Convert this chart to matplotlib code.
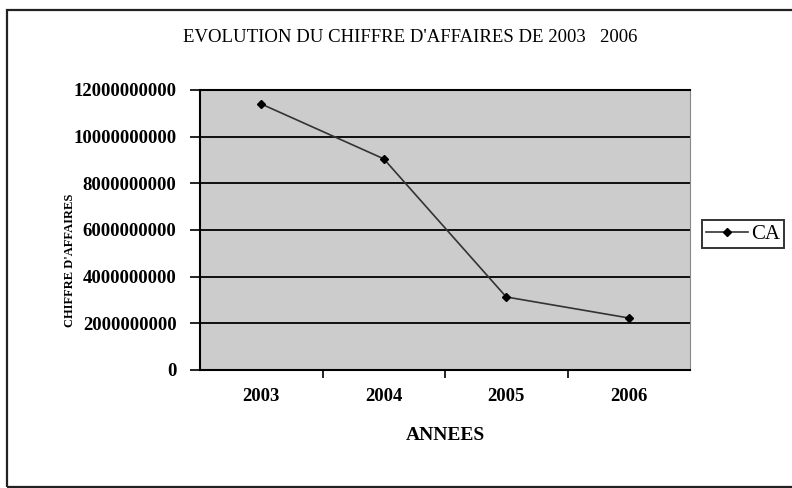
import matplotlib
matplotlib.use("Agg")
import matplotlib.pyplot as plt
from matplotlib.patches import Rectangle
from matplotlib.ticker import FuncFormatter, FixedLocator

years = ["2003", "2004", "2005", "2006"]
ca = [11400000000, 9050000000, 3130000000, 2230000000]
yticks = [0, 2000000000, 4000000000, 6000000000, 8000000000, 10000000000, 12000000000]

plt.rcParams["font.family"] = ["Liberation Serif", "DejaVu Serif"]

W, H = 792, 488
fig = plt.figure(figsize=(W / 100, H / 100), dpi=100)
fig.patch.set_facecolor("white")

# chart frame (runs off the right edge of the scan)
fig.patches.append(Rectangle((7 / W, 1 / H), 1.0, (H - 11) / H, transform=fig.transFigure,
                             fill=False, edgecolor="#222222", linewidth=1.6))

ax = fig.add_axes([200 / W, 1 - 370 / H, 490 / W, 280 / H])
ax.set_facecolor("#cccccc")

x = list(range(len(years)))
ax.plot(x, ca, color="#333333", linewidth=1.2, marker="D", markersize=4.5,
        markerfacecolor="black", markeredgecolor="black", label="CA", zorder=3)

ax.set_xlim(-0.5, len(years) - 0.5)
ax.set_ylim(0, 12000000000)
ax.set_yticks(yticks)
ax.yaxis.set_major_formatter(FuncFormatter(lambda v, p: f"{int(v)}"))
ax.grid(axis="y", color="black", linewidth=1.3)
ax.set_axisbelow(True)

ax.set_xticks(x)
ax.set_xticklabels(years)
ax.xaxis.set_minor_locator(FixedLocator([0.5, 1.5, 2.5]))
ax.tick_params(axis="x", which="major", length=0, pad=13, labelsize=13.5)
ax.tick_params(axis="x", which="minor", length=6, width=1.2, direction="out")
ax.tick_params(axis="y", length=7, width=1.2, pad=10, labelsize=13.5)
for lbl in ax.get_xticklabels() + ax.get_yticklabels():
    lbl.set_fontweight("bold")

for side in ["left", "bottom", "top"]:
    ax.spines[side].set_color("black")
    ax.spines[side].set_linewidth(1.5)
ax.spines["right"].set_color("#888888")
ax.spines["right"].set_linewidth(0.8)

ax.set_xlabel("ANNEES", fontsize=14, fontweight="bold", labelpad=16)

fig.text(410 / W, 1 - 37 / H, "EVOLUTION DU CHIFFRE D'AFFAIRES DE 2003   2006",
         ha="center", va="center", fontsize=13.5)
fig.text(70 / W, 1 - 260 / H, "CHIFFRE D'AFFAIRES", rotation=90,
         ha="center", va="center", fontsize=9, fontweight="bold")

leg = ax.legend(loc="center left", bbox_to_anchor=(1.025, 0.485), frameon=True,
                fancybox=False, fontsize=15, handlelength=2.0, handletextpad=0.15,
                borderpad=0.2, borderaxespad=0)
leg.get_frame().set_edgecolor("black")
leg.get_frame().set_linewidth(1.4)

fig.savefig("out.png", dpi=100)
